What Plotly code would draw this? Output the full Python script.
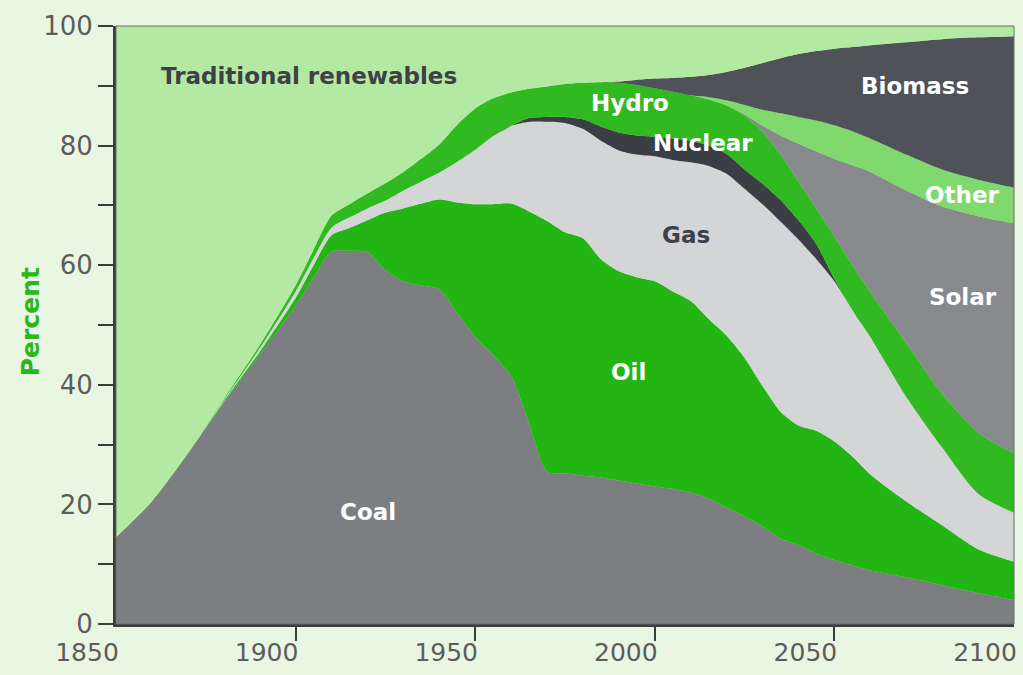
import plotly.graph_objects as go

years = [1850, 1860, 1870, 1880, 1890, 1900, 1905, 1910, 1915, 1920, 1925, 1930, 1935,
         1940, 1945, 1950, 1955, 1960, 1965, 1970, 1975, 1980, 1985, 1990, 1995, 2000,
         2005, 2010, 2015, 2020, 2025, 2030, 2035, 2040, 2045, 2050, 2055, 2060, 2070,
         2080, 2090, 2100]

coal = [14.5, 20.5, 28.5, 37, 45, 53.2, 58, 62.3, 62.4, 62.2, 59.2, 57.3, 56.6,
        56, 52, 48, 45, 41.5, 33.5, 25.5, 25.2, 24.8, 24.5, 24, 23.5, 23,
        22.6, 22, 21, 19.5, 18, 16.3, 14.3, 13.2, 11.8, 10.7, 9.8, 9.0, 7.8,
        6.5, 5.2, 4]
oil = [0, 0, 0, 0.2, 0.5, 1.3, 2.0, 2.7, 3.8, 5.3, 9.6, 12.2, 13.7,
       15, 18.5, 22.2, 25.2, 28.8, 35.5, 41.9, 40.3, 39.7, 36.5, 35, 34.5, 34.3,
       33, 32, 30, 28.7, 26.5, 23.5, 21.2, 20, 20.5, 19.8, 18.2, 16, 12.7,
       10, 7.3, 6.4]
gas = [0, 0, 0, 0.2, 0.6, 1.1, 1.2, 1.3, 1.8, 2, 2, 3, 3.7,
       4.5, 6.8, 9.1, 11.4, 13, 15, 16.6, 18.3, 18.3, 19.8, 20.2, 20.5, 20.9,
       22, 23.2, 25.6, 27.1, 28.3, 30.4, 31.8, 31.1, 28.7, 26.8, 24.5, 23, 17.5,
       13, 9.3, 8.2]
nuclear = [0, 0, 0, 0, 0, 0, 0, 0, 0, 0, 0, 0, 0,
           0, 0, 0, 0, 0, 0.6, 0.8, 1.0, 1.6, 2.4, 3.0, 3.2, 3.3,
           3.6, 3.6, 3.4, 3.3, 3.2, 3.4, 3.6, 3.2, 2.5, 0.4, 0, 0, 0,
           0, 0, 0]
hydro = [0, 0, 0, 0.2, 0.5, 1.0, 1.4, 2.0, 2.2, 2.5, 2.9, 3.1, 3.8,
         4.7, 6.2, 6.9, 6.3, 5.6, 4.9, 5.1, 5.5, 6.1, 7.4, 8.3, 8.4, 8.1,
         7.8, 7.6, 7.7, 8.1, 9.0, 8.7, 7.6, 6.5, 6.0, 7.1, 7.5, 7.5, 9.0,
         9.0, 10.2, 10.0]
solar = [0, 0, 0, 0, 0, 0, 0, 0, 0, 0, 0, 0, 0,
         0, 0, 0, 0, 0, 0, 0, 0, 0, 0, 0, 0, 0,
         0, 0, 0, 0, 0.2, 1.0, 3.2, 6.3, 9.5, 13.0, 16.7, 20.1, 25.5,
         31.3, 36.2, 38.4]
other = [0, 0, 0, 0, 0, 0, 0, 0, 0, 0, 0, 0, 0,
         0, 0, 0, 0, 0, 0, 0, 0, 0, 0, 0, 0, 0,
         0, 0, 0.4, 0.9, 1.6, 2.7, 3.7, 4.5, 5.2, 5.6, 5.7, 5.6, 6.0,
         6.2, 6.1, 6.0]
biomass = [0, 0, 0, 0, 0, 0, 0, 0, 0, 0, 0, 0, 0,
           0, 0, 0, 0, 0, 0, 0, 0, 0, 0, 0.2, 0.9, 1.6,
           2.3, 3.1, 3.7, 4.7, 6.2, 7.8, 9.2, 10.5, 11.6, 12.8, 14.1, 15.6, 18.8,
           21.8, 23.8, 25.3]
traditional = [85.5, 79.5, 71.5, 62.4, 53.4, 43.4, 37.4, 31.7, 29.8, 28, 26.3, 24.4, 22.2,
               19.8, 16.5, 13.8, 12.1, 11.1, 10.5, 10.1, 9.7, 9.5, 9.4, 9.3, 9, 8.8,
               8.7, 8.5, 8.2, 7.7, 7, 6.2, 5.4, 4.7, 4.2, 3.8, 3.5, 3.2, 2.7,
               2.2, 1.9, 1.7]

series = [
    ("Coal", coal, "#7d7e82"),
    ("Oil", oil, "#22b514"),
    ("Gas", gas, "#d4d5d7"),
    ("Nuclear", nuclear, "#3b3e45"),
    ("Hydro", hydro, "#30b921"),
    ("Solar", solar, "#88898d"),
    ("Other", other, "#80d96c"),
    ("Biomass", biomass, "#4f5259"),
    ("Traditional renewables", traditional, "#b4e9a4"),
]

# label text, x (year), y (percent), colour
labels = [
    ("Traditional renewables", 1903.6, 91.6, "#3d4047"),
    ("Hydro", 1993.2, 87.1, "white"),
    ("Nuclear", 2013.4, 80.4, "white"),
    ("Gas", 2008.7, 65.1, "#3d4047"),
    ("Oil", 1992.6, 42.1, "white"),
    ("Coal", 1920.2, 18.7, "white"),
    ("Biomass", 2072.5, 90.0, "white"),
    ("Other", 2085.6, 71.7, "white"),
    ("Solar", 2085.8, 54.7, "white"),
]

fig = go.Figure()
for name, vals, col in series:
    fig.add_trace(go.Scatter(
        x=years, y=vals, name=name, stackgroup="one", mode="lines",
        line=dict(color=col, width=0, shape="spline", smoothing=0.7),
        fillcolor=col, hoverinfo="x+y+name",
    ))

for text, lx, ly, col in labels:
    fig.add_annotation(x=lx, y=ly, text="<b>%s</b>" % text, showarrow=False,
                       font=dict(family="DejaVu Sans", size=23, color=col))

fig.add_annotation(xref="paper", x=-0.0955, yref="y", y=50.5, text="<b>Percent</b>",
                   textangle=-90, showarrow=False, xanchor="center", yanchor="middle",
                   font=dict(family="DejaVu Sans", size=25, color="#2db51e"))

fig.add_shape(type="rect", xref="paper", yref="paper", x0=0, x1=1, y0=0, y1=1,
              line=dict(color="#6a6a6a", width=1), layer="above")

axis_col = "#3c3c3c"
fig.update_layout(
    width=1023, height=675,
    margin=dict(l=116, r=6, t=26, b=51),
    paper_bgcolor="#e9f7e2",
    plot_bgcolor="#b4e9a4",
    showlegend=False,
    xaxis=dict(
        range=[1850, 2100], tickmode="array",
        tickvals=[1850, 1900, 1950, 2000, 2050, 2100],
        ticks="", showgrid=False, zeroline=False,
        showline=True, linewidth=3, linecolor=axis_col,
        ticklabelshift=-29, ticklabelstandoff=4,
        tickfont=dict(family="DejaVu Sans", size=25, color="#5c5c5c"),
        minor=dict(tickmode="array", tickvals=[1900, 1950, 2000, 2050],
                   ticks="outside", ticklen=14, tickwidth=2, tickcolor=axis_col,
                   showgrid=False),
    ),
    yaxis=dict(
        range=[0, 100], tickmode="array",
        tickvals=[0, 20, 40, 60, 80, 100],
        ticks="outside", ticklen=15, tickwidth=2, tickcolor=axis_col,
        showgrid=False, zeroline=False,
        showline=True, linewidth=3, linecolor=axis_col,
        ticklabelstandoff=0,
        tickfont=dict(family="DejaVu Sans", size=26, color="#5c5c5c"),
        minor=dict(tickmode="array", tickvals=[10, 30, 50, 70, 90],
                   ticks="outside", ticklen=15, tickwidth=2, tickcolor=axis_col,
                   showgrid=False),
    ),
)

fig.write_html(
    "out.html",
    config={"displayModeBar": False},
    post_script="document.body.style.margin='0';document.body.style.background='#e9f7e2';document.body.style.overflow='hidden';",
)
